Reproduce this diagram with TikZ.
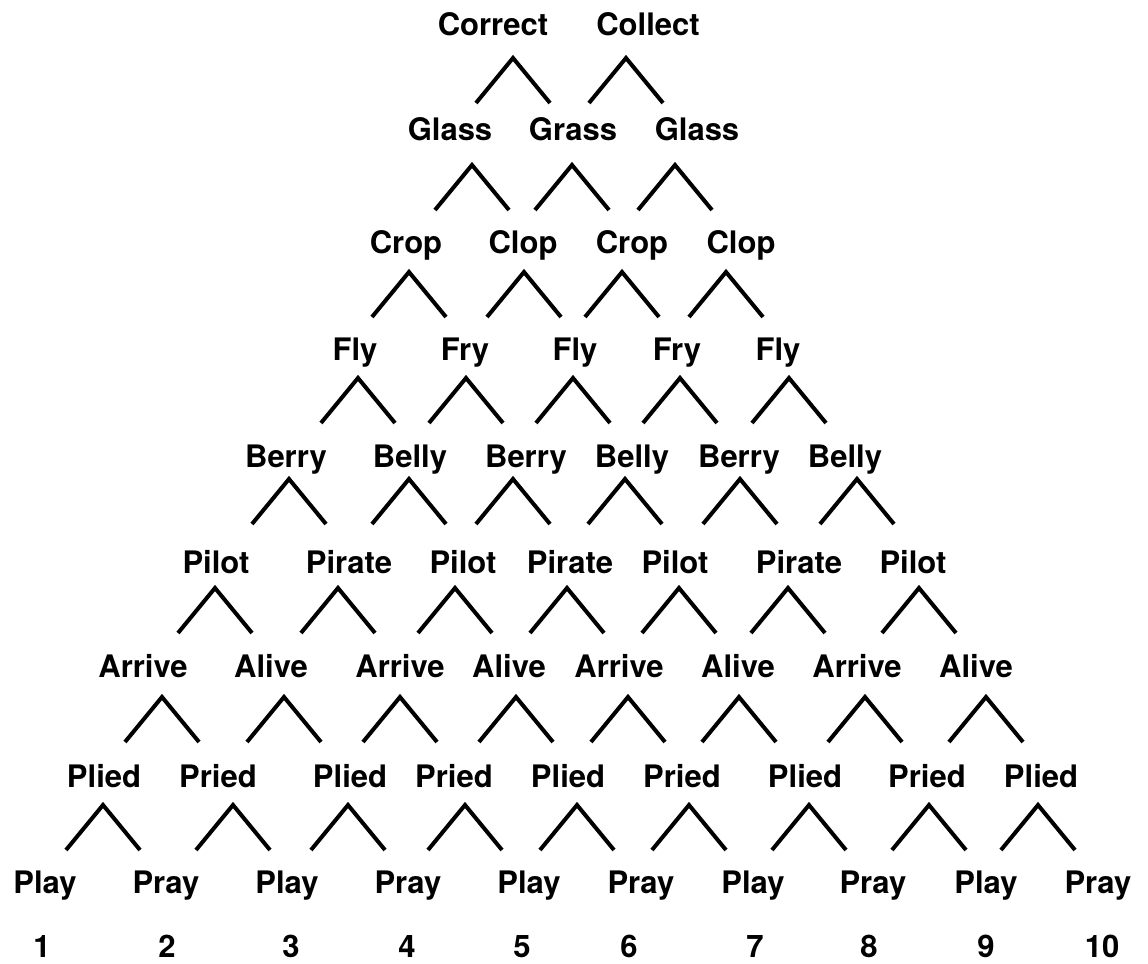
\documentclass[tikz,border=0pt]{standalone}
\usepackage{fontspec}
\setmainfont{TeX Gyre Heros}
\begin{document}
\begin{tikzpicture}[x=0.5pt,y=-0.5pt,
  word/.style={anchor=base,inner sep=0pt,font=\fontsize{15.5}{18}\selectfont\bfseries},
  caret/.style={line width=2pt,line cap=butt,line join=miter,black}]
\useasboundingbox (0,0) rectangle (1148,964);
% rows of words: x/text, baseline y
\foreach \x/\t [count=\i] in {493/Correct,648/Collect}
  \node[word] (r0-\i) at (\x,35) {\t};
\foreach \x/\t [count=\i] in {450/Glass,573/Grass,697/Glass}
  \node[word] (r1-\i) at (\x,140) {\t};
\foreach \x/\t [count=\i] in {406/Crop,523/Clop,632/Crop,741/Clop}
  \node[word] (r2-\i) at (\x,253) {\t};
\foreach \x/\t [count=\i] in {355/Fly,465/Fry,575/Fly,677/Fry,778/Fly}
  \node[word] (r3-\i) at (\x,360) {\t};
\foreach \x/\t [count=\i] in {286/Berry,410/Belly,526/Berry,632/Belly,739/Berry,845/Belly}
  \node[word] (r4-\i) at (\x,467) {\t};
\foreach \x/\t [count=\i] in {216/Pilot,349/Pirate,463/Pilot,570/Pirate,675/Pilot,799/Pirate,913/Pilot}
  \node[word] (r5-\i) at (\x,573) {\t};
\foreach \x/\t [count=\i] in {143/Arrive,271/Alive,400/Arrive,509/Alive,619/Arrive,738/Alive,857/Arrive,976/Alive}
  \node[word] (r6-\i) at (\x,677) {\t};
\foreach \x/\t [count=\i] in {104/Plied,218/Pried,350/Plied,454/Pried,568/Plied,682/Pried,805/Plied,927/Pried,1041/Plied}
  \node[word] (r7-\i) at (\x,787) {\t};
\foreach \x/\t [count=\i] in {45/Play,166/Pray,287/Play,408/Pray,529/Play,641/Pray,753/Play,873/Pray,986/Play,1098/Pray}
  \node[word] (r8-\i) at (\x,893) {\t};
\foreach \x [count=\i] in {42,167,291,407,522,629,755,869,986,1102}
  \node[word] (n-\i) at (\x,957) {\i};
% carets: peak x list, top y
\foreach \py/\xs in {58/{513,626},165/{472,572,675},272/{409,524,622,726},
    378/{358,466,573,680,789},479/{289,409,513,625,740,857},
    588/{215,338,455,567,679,788,919},697/{162,284,400,516,628,739,865,986},
    805/{103,233,348,465,577,689,809,929,1038}}{
  \foreach \x in \xs
    \draw[caret] (\x-37,\py+45) -- (\x,\py) -- (\x+37,\py+45);
}
\end{tikzpicture}
\end{document}
